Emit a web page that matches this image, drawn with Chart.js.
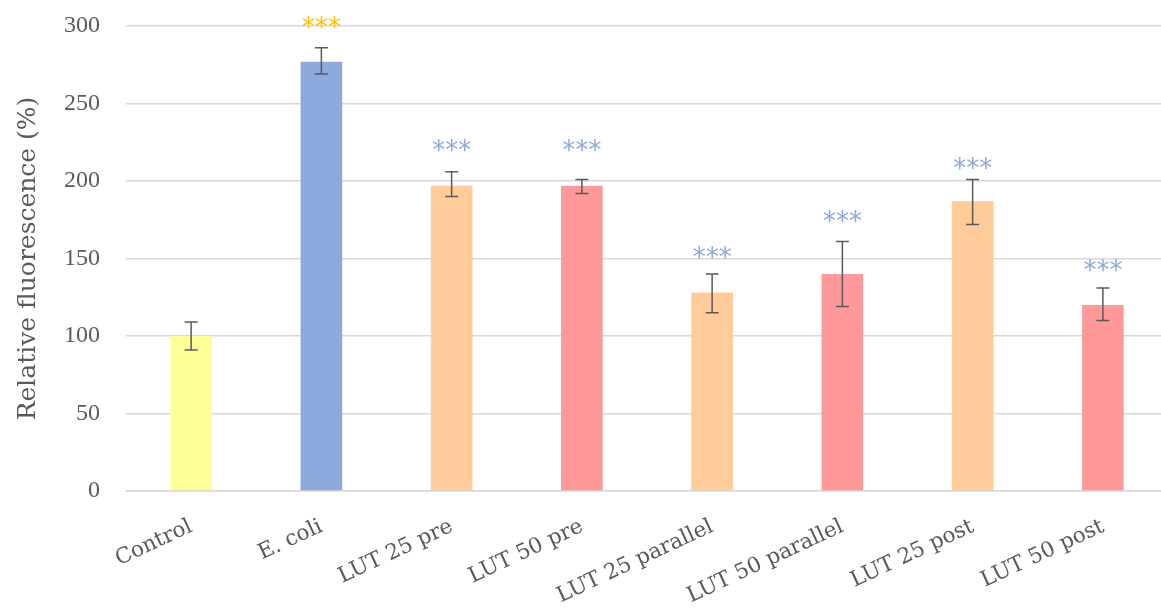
<!DOCTYPE html>
<html>
<head>
<meta charset="utf-8">
<script src="https://cdn.jsdelivr.net/npm/chart.js@4"></script>
<style>
  html, body { margin: 0; padding: 0; background: #fff; overflow: hidden; }
  #wrap { width: 1170px; height: 610px; position: relative; }
</style>
</head>
<body>
<div id="wrap"><canvas id="chart"></canvas></div>
<script>
// data
const groups = ['Control', 'E. coli', 'LUT 25 pre', 'LUT 50 pre', 'LUT 25 parallel', 'LUT 50 parallel', 'LUT 25 post', 'LUT 50 post'];
const fluorescence = [100, 277, 197, 197, 128, 140, 187, 120];
const errLow = [91, 269, 190, 192, 115, 119, 172, 110];
const errHigh = [109, 286, 206, 201, 140, 161, 201, 131];
const stars = ['', '***', '***', '***', '***', '***', '***', '***'];
const starLevel = [0, 303, 224, 224, 155, 178, 212, 146];
const yTicks = [0, 50, 100, 150, 200, 250, 300];

const barColors = ['#FFFF99', '#8EA9DB', '#FFCC99', '#FF9999', '#FFCC99', '#FF9999', '#FFCC99', '#FF9999'];
const starColors = ['#FFC000', '#FFC000', '#8EA9DB', '#8EA9DB', '#8EA9DB', '#8EA9DB', '#8EA9DB', '#8EA9DB'];
const textColor = '#595959';
const fontFamily = '"DejaVu Serif", "Liberation Serif", serif';

// error bars + significance stars
const extrasPlugin = {
  id: 'extras',
  afterDatasetsDraw(chart) {
    const ctx = chart.ctx;
    const x = chart.scales.x;
    const y = chart.scales.y;
    ctx.save();
    groups.forEach((g, i) => {
      const cx = x.getPixelForValue(i);
      const top = y.getPixelForValue(errHigh[i]);
      const bot = y.getPixelForValue(errLow[i]);
      ctx.strokeStyle = '#595959';
      ctx.lineWidth = 1.5;
      ctx.beginPath();
      ctx.moveTo(cx, top); ctx.lineTo(cx, bot);
      ctx.moveTo(cx - 6.5, top); ctx.lineTo(cx + 6.5, top);
      ctx.moveTo(cx - 6.5, bot); ctx.lineTo(cx + 6.5, bot);
      ctx.stroke();
      if (stars[i]) {
        ctx.fillStyle = starColors[i];
        ctx.font = '26px "DejaVu Sans", sans-serif';
        ctx.textAlign = 'center';
        ctx.textBaseline = 'middle';
        ctx.fillText(stars[i], cx, y.getPixelForValue(starLevel[i]) + 8);
      }
    });
    ctx.restore();
  }
};

const ctx = document.getElementById('chart').getContext('2d');
new Chart(ctx, {
  type: 'bar',
  data: {
    labels: groups,
    datasets: [{
      data: fluorescence,
      backgroundColor: barColors,
      barPercentage: 0.32,
      categoryPercentage: 1.0
    }]
  },
  options: {
    responsive: true,
    maintainAspectRatio: false,
    animation: false,
    layout: { padding: { top: 26, right: 2, left: 0, bottom: 0 } },
    plugins: {
      legend: { display: false },
      tooltip: { enabled: false }
    },
    scales: {
      x: {
        grid: { display: false, drawTicks: false },
        border: { color: '#D9D9D9', width: 1.5 },
        ticks: {
          color: textColor,
          font: { family: fontFamily, size: 21.5 },
          minRotation: 25,
          maxRotation: 25,
          padding: 23
        },
        afterFit(scale) { scale.height = 119; }
      },
      y: {
        min: 0,
        max: 300,
        afterBuildTicks(scale) { scale.ticks = yTicks.map(v => ({ value: v })); },
        grid: { color: '#D9D9D9', lineWidth: 1.5, drawTicks: false },
        border: { display: false },
        ticks: {
          color: textColor,
          font: { family: '"Liberation Serif", serif', size: 24 },
          padding: 26
        },
        title: {
          display: true,
          text: 'Relative fluorescence (%)',
          color: textColor,
          font: { family: fontFamily, size: 25 },
          padding: { top: 13, bottom: 0 }
        },
        afterFit(scale) {
          scale.width = 126;
          scale.paddingTop = 0;
          scale.paddingBottom = 0;
        }
      }
    }
  },
  plugins: [extrasPlugin]
});
</script>
</body>
</html>
